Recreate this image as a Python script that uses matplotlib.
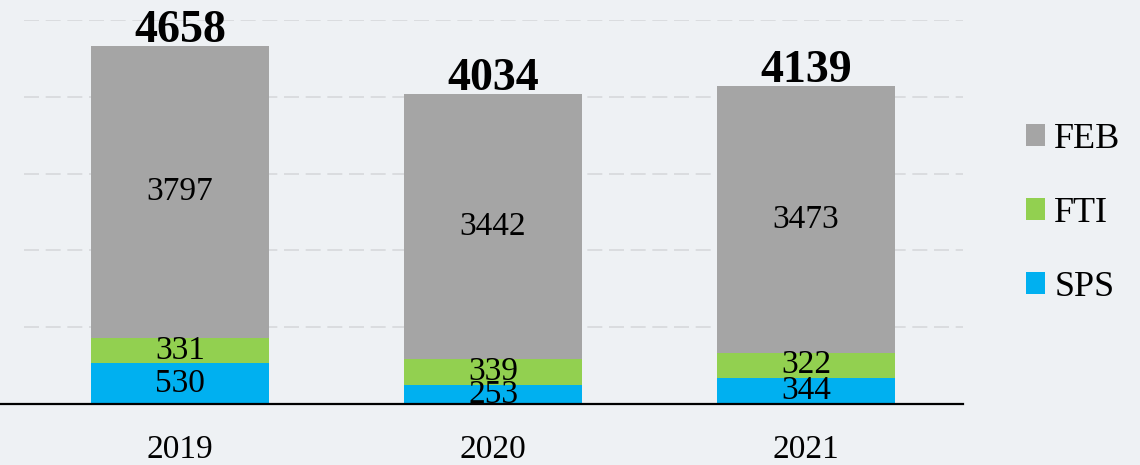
import matplotlib
matplotlib.use('Agg')
import matplotlib.pyplot as plt
import numpy as np

years = ['2019', '2020', '2021']
sps = [530, 253, 344]
fti = [331, 339, 322]
feb = [3797, 3442, 3473]
totals = [4658, 4034, 4139]

COLORS = {'SPS': '#00b0f0', 'FTI': '#92d050', 'FEB': '#a5a5a5'}
BG = '#eef1f4'

plt.rcParams['font.family'] = ['Liberation Serif', 'DejaVu Serif']

W, H = 1140, 465
fig = plt.figure(figsize=(W / 100, H / 100), dpi=100, facecolor=BG)
ax = fig.add_axes([0, 1 - 404 / H, 963 / W, 384 / H])
ax.set_facecolor('none')

x = np.arange(len(years))
width = 0.57
bottom = np.zeros(len(years))
bars = {}
for name, vals in [('SPS', sps), ('FTI', fti), ('FEB', feb)]:
    bars[name] = ax.bar(x, vals, width, bottom=bottom, color=COLORS[name],
                        label=name, zorder=2)
    for xi, b, v in zip(x, bottom, vals):
        ax.text(xi, b + v / 2, str(v), ha='center', va='center',
                fontsize=24, color='black', zorder=4)
    bottom = bottom + np.array(vals)

for xi, t in zip(x, totals):
    ax.annotate(str(t), (xi, t), xytext=(0, 3), textcoords='offset points',
                ha='center', va='baseline', fontsize=33, fontweight='bold')

for gy in range(1000, 5001, 1000):
    ax.axhline(gy, xmin=24 / 963, xmax=1, color='#d6d8db', lw=1.2,
               dashes=(9, 4), zorder=1)

ax.set_ylim(0, 5000)
ax.set_xlim(-180 / 313, 2 + (963 - 806) / 313)
ax.set_xticks(x)
ax.set_xticklabels(years, fontsize=24)
ax.tick_params(axis='x', length=0, pad=22)
ax.set_yticks([])
for s in ['top', 'right', 'left']:
    ax.spines[s].set_visible(False)
ax.spines['bottom'].set_linewidth(1.6)
ax.spines['bottom'].set_zorder(3)

handles = [bars['FEB'], bars['FTI'], bars['SPS']]
leg = fig.legend(handles, ['FEB', 'FTI', 'SPS'], loc='upper left',
                 bbox_to_anchor=(993 / W, 1 - 90 / H), frameon=False,
                 fontsize=26, handlelength=0.55, handleheight=0.55,
                 handletextpad=0.25, labelspacing=1.14)

fig.savefig('out.png', dpi=100, facecolor=BG)
